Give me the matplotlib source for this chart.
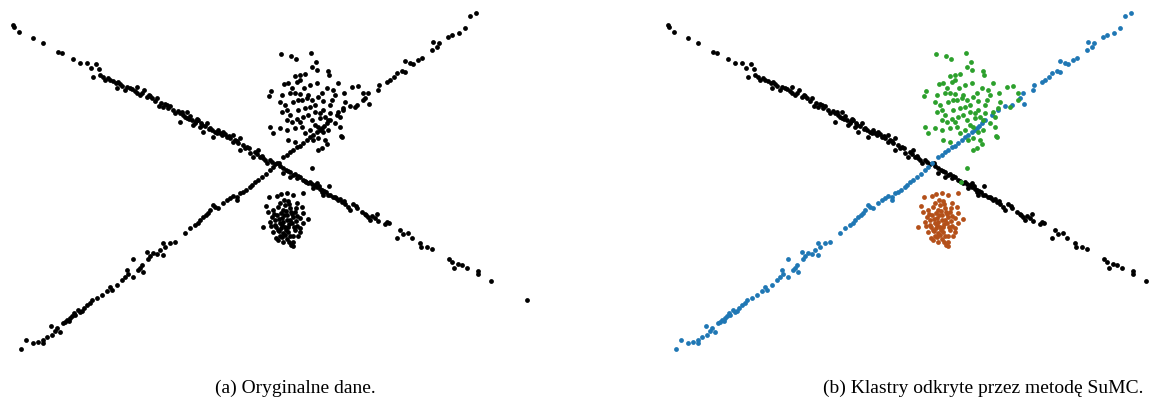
import matplotlib
matplotlib.use("Agg")
import matplotlib.pyplot as plt

# points (x to the right, y downwards)
line_a = [(13,25),(14,27),(19,32),(33,38),(43,43),(58,52),(62,53),(73,59),(80,63),(87,63),(91,68),(96,64),
          (99,69),(93,77),(100,75),(103,77),(108,78),(113,81),(116,83),(117,88),(122,86),(127,87),(132,89),
          (137,87),(137,93),(140,95),(144,90),(147,97),(152,98),(157,98),(159,106),(163,107),(168,108),(173,110),
          (180,113),(180,122),(187,112),(187,118),(192,120),(193,125),(198,120),(200,127),(203,132),(207,123),
          (212,130),(213,137),(218,130),(222,135),(227,137),(233,135),(233,142),(238,143),(240,138),(240,150),
          (247,147),(250,153),(253,157),(258,150),(260,157),(265,160),(267,163),
          (110,80),(120,84),(125,90),(135,91),(150,96),(155,101),(165,104),(170,106),(175,113),(183,115),
          (185,117),(190,116),(195,123),(197,119),(202,125),(205,126),(210,128),(215,132),(220,133),(225,134),
          (230,138),(235,140),(243,145),(245,148),(255,152),(262,156),(270,160),(272,162),(275,164),(279,163),
          (283,168),(290,172),(293,175),(300,177),(303,180),(310,182),(317,187),(322,190),(328,195),(333,197),
          (283,173),(290,177),(297,178),(308,183),(313,188),(317,183),(322,192),(323,195),(329,186),(330,195),
          (335,197),(338,200),(342,202),(348,207),(350,210),(353,204),(357,208),(362,212),(368,217),(370,220),
          (375,218),(377,214),(378,221),(387,222),(389,223),(400,230),(397,238),(403,234),(408,233),(412,238),
          (420,243),(421,247),(427,247),(432,249),(449,259),(452,262),(454,268),(458,264),(462,265),(467,268),
          (478,271),(478,274),(491,281),
          (280,166),(286,170),(295,174),(305,181),(315,185),(320,189),(326,192),(340,199),(345,204),(365,214),
          (372,216),
          (105,80),(118,82),(130,88),(142,93),(149,95),(161,103),(167,105),(178,111),(182,112),(189,119),
          (196,121),(201,123),(209,129),(217,133),(223,132),(229,136),(237,141),(249,148),(257,154),(263,158),
          (288,171),(298,176),(312,184),(319,186),(324,191),(336,198),(344,201),(356,206),(366,215),(385,224)]

line_b = [(21,349),(26,340),(33,343),(38,342),(43,340),(43,343),(47,337),(51,326),(52,335),(57,328),(60,332),
          (63,323),(67,320),(70,318),(75,315),(78,310),(82,311),(87,305),(92,300),(97,298),(102,295),(110,287),
          (112,290),(117,285),(122,280),(127,270),(125,277),(133,277),(133,259),(138,270),(142,265),(143,272),
          (147,252),(148,259),(153,253),(157,254),(163,255),(163,243),(165,247),(170,243),(175,242),(185,233),
          (190,228),(198,223),(203,217),(208,213),(213,205),(218,208),(223,203),(230,198),(237,197),(237,200),
          (243,192),(250,187),(255,182),
          (65,322),(72,316),(80,312),(84,308),(107,291),(200,220),(206,215),(215,207),(227,200),(233,196),
          (240,193),(246,190),(252,185),(258,180),(262,177),(266,174),(270,170),(273,167),(277,163),
          (283,157),(290,152),(297,147),(303,143),(310,137),(317,132),(322,128),(327,123),(287,155),(293,150),
          (300,146),(307,140),(313,135),(320,130),(324,126),
          (330,120),(337,115),(343,110),(350,106),(357,105),(365,98),(368,93),(369,104),(378,90),(379,85),
          (387,82),(390,80),(394,77),(397,73),(402,71),(405,72),(405,61),(410,63),(413,64),(418,60),(422,58),
          (432,50),(433,42),(437,47),(439,43),(448,37),(452,35),(459,33),(465,28),(470,16),(476,13),
          (55,331),(69,321),(74,313),(90,303),(128,274),(140,268),(150,256),(160,250),(195,225),(210,210)]

blob_up = [(281,54),(291,56),(296,59),(311,53),(312,67),(317,70),(316,62),(328,71),(329,75),(295,76),(300,75),
           (305,74),(297,82),(284,84),(288,83),(317,83),(338,83),(352,87),(358,86),(271,91),(269,96),(290,93),
           (295,93),(300,94),(304,88),(308,95),(322,93),(333,90),(344,93),(363,93),(280,102),(285,105),(293,102),
           (298,100),(307,98),(312,100),(318,97),(323,101),(332,100),(335,95),(345,102),(363,100),(282,112),
           (287,110),(298,110),(305,108),(310,107),(315,112),(323,110),(330,113),(338,112),(343,108),(355,107),
           (287,120),(292,122),(297,119),(303,117),(312,120),(320,118),(325,117),(335,123),(270,127),(280,128),
           (287,130),(295,128),(302,127),(310,130),(318,127),(323,132),(328,130),(340,127),(273,133),(288,140),
           (295,142),(318,138),(325,140),(342,137),(322,148),(327,144),(318,150),(341,136),(312,168),(306,182),
           (300,80),(310,85),(292,88),(302,100),(315,105),(320,113),(308,115),(300,122),(315,125),(328,120),
           (290,115),(305,133),(313,140),(330,105),(282,95),(327,88),(340,117)]

blob_down = [(269,197),(277,196),(281,194),(287,193),(293,195),(303,193),(280,203),(288,201),(297,203),(302,207),
             (266,206),(268,212),(273,210),(283,210),(290,208),(295,212),(303,213),(272,217),(277,215),(282,218),
             (287,215),(293,217),(300,218),(308,219),(263,227),(270,222),(275,225),(280,223),(285,227),(292,223),
             (297,226),(303,223),(273,232),(278,230),(283,233),(288,232),(295,230),(300,232),(276,238),(282,237),
             (287,239),(293,236),(293,242),(283,242),(291,245),(293,246),(288,227),(283,222),
             (285,205),(291,212),(279,219),(290,220),(286,230),(280,236),(296,221),(284,215),(289,204),(276,227),
             (298,236),(281,228),
             (278,207),(286,211),(292,214),(281,213),(275,220),(289,224),(294,227),(279,231),(285,235),(290,236),
             (282,225),(287,220),(297,216),(271,226),(284,200),(296,208),(278,240),(289,242),(274,214),(300,228)]

noise = [(527,300)]

groups = [line_a, line_b, blob_up, blob_down]
colors = ["#000000", "#1f77b4", "#2ca02c", "#b4501a"]

fig = plt.figure(figsize=(11.76, 4.03), dpi=100)
ax1 = fig.add_axes([0, 43/403, 0.5, 360/403])
ax2 = fig.add_axes([0.5, 43/403, 0.5, 360/403])

# (a) all points black
for pts in groups + [noise]:
    xs, ys = zip(*pts)
    ax1.scatter(xs, ys, s=12, c="#000000", linewidths=0)

# (b) clusters coloured
for pts, col in zip(groups, colors):
    xs, ys = zip(*pts)
    ax2.scatter(xs, ys, s=12, c=col, linewidths=0)

ax1.set_xlim(0, 588)
ax2.set_xlim(-67, 521)
for ax in (ax1, ax2):
    ax.set_ylim(360, 0)
    ax.axis("off")

fig.text(295/1176, 1 - 388/403, "(a) Oryginalne dane.", ha="center", va="center",
         family="Liberation Serif", fontsize=14)
fig.text(983/1176, 1 - 388/403, "(b) Klastry odkryte przez metodę SuMC.", ha="center", va="center",
         family="Liberation Serif", fontsize=14)

fig.savefig("out.png", dpi=100)
